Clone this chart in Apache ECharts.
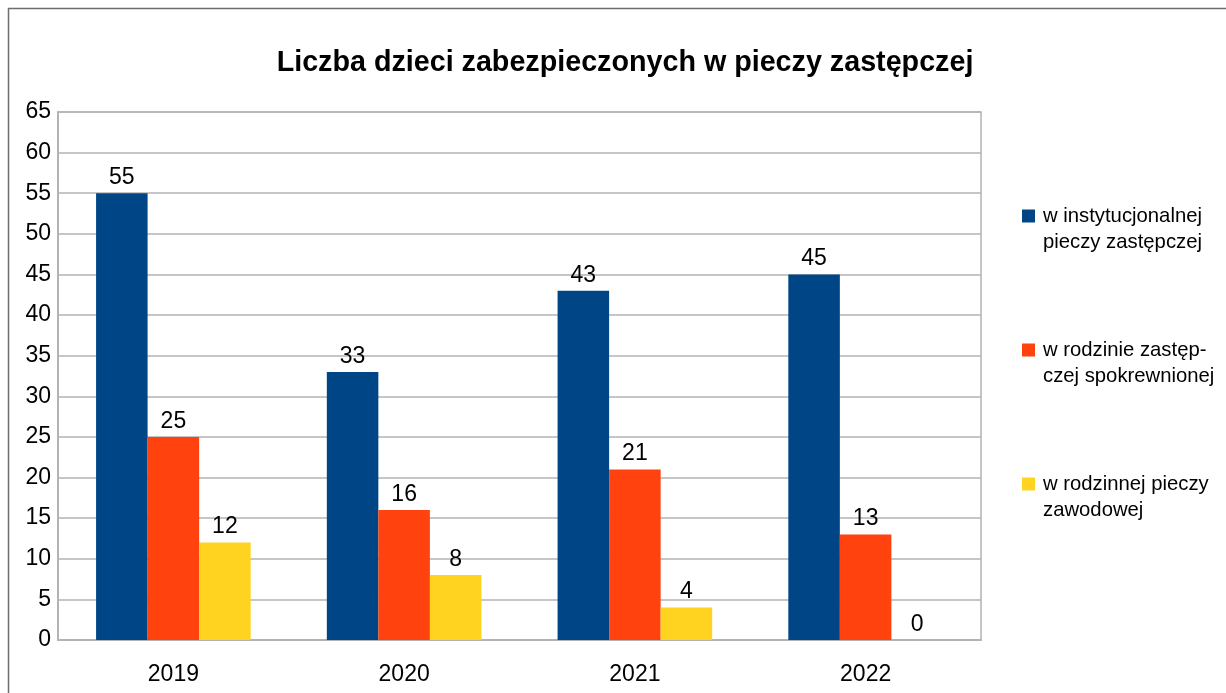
<!DOCTYPE html>
<html>
<head>
<meta charset="utf-8">
<script src="https://cdn.jsdelivr.net/npm/echarts@6/dist/echarts.min.js"></script>
<style>
  html, body { margin: 0; padding: 0; background: #fff; }
  #chart { width: 1226px; height: 693px; }
</style>
</head>
<body>
<div id="chart"></div>
<script>
// data
var years = ['2019', '2020', '2021', '2022']
var instytucjonalna = [55, 33, 43, 45]
var spokrewniona = [25, 16, 21, 13]
var zawodowa = [12, 8, 4, 0]
var seriesNames = [
  'w instytucjonalnej pieczy zastępczej',
  'w rodzinie zastępczej spokrewnionej',
  'w rodzinnej pieczy zawodowej'
]
// legend texts are wrapped like in the original
var legendLabels = {
  'w instytucjonalnej pieczy zastępczej': 'w instytucjonalnej\npieczy zastępczej',
  'w rodzinie zastępczej spokrewnionej': 'w rodzinie zastęp-\nczej spokrewnionej',
  'w rodzinnej pieczy zawodowej': 'w rodzinnej pieczy\nzawodowej'
}
var colors = ['#004586', '#ff420e', '#ffd320']
var font = '"Liberation Sans", Arial, sans-serif'

var chart = echarts.init(document.getElementById('chart'))

function makeSeries (name, values) {
  return {
    name: name,
    type: 'bar',
    data: values,
    barGap: '0%',
    barCategoryGap: '33%',
    label: {
      show: true,
      position: 'top',
      distance: 4,
      color: '#000',
      fontSize: 23,
      fontFamily: font
    }
  }
}

chart.setOption({
  backgroundColor: '#fff',
  animation: false,
  color: colors,
  title: {
    text: 'Liczba dzieci zabezpieczonych w pieczy zastępczej',
    left: 620,
    top: 44,
    textAlign: 'center',
    textStyle: {
      color: '#000',
      fontSize: 28.7,
      fontWeight: 'bold',
      fontFamily: font
    }
  },
  legend: {
    data: seriesNames,
    orient: 'vertical',
    left: 1022,
    top: 177,
    padding: 0,
    itemGap: 56,
    itemWidth: 13,
    itemHeight: 13,
    icon: 'rect',
    formatter: function (name) {
      // empty first line keeps the square next to the first text line
      return '\n' + legendLabels[name]
    },
    textStyle: {
      color: '#000',
      fontSize: 20.3,
      lineHeight: 26,
      fontFamily: font,
      padding: [0, 0, 0, 3]
    }
  },
  grid: {
    left: 58,
    right: 245,
    top: 112,
    bottom: 53,
    show: true,
    borderColor: '#b3b3b3',
    borderWidth: 1.5,
    containLabel: false
  },
  xAxis: {
    type: 'category',
    data: years,
    axisTick: { show: false },
    axisLine: {
      show: true,
      lineStyle: { color: '#b3b3b3', width: 2 }
    },
    axisLabel: {
      color: '#000',
      fontSize: 23,
      margin: 23,
      fontFamily: font
    },
    splitLine: { show: false }
  },
  yAxis: {
    type: 'value',
    min: 0,
    max: 65,
    interval: 5,
    axisTick: { show: false },
    axisLine: {
      show: true,
      lineStyle: { color: '#b3b3b3', width: 2 }
    },
    axisLabel: {
      color: '#000',
      fontSize: 23,
      margin: 7,
      fontFamily: font,
      padding: [4, 0, 0, 0]
    },
    splitLine: {
      show: true,
      lineStyle: { color: '#b3b3b3', width: 1.5 }
    }
  },
  graphic: [
    {
      type: 'rect',
      silent: true,
      z: 100,
      shape: { x: 8.5, y: 8.5, width: 1300, height: 800 },
      style: { fill: 'none', stroke: '#6e6e6e', lineWidth: 1.5 }
    }
  ],
  series: [
    makeSeries(seriesNames[0], instytucjonalna),
    makeSeries(seriesNames[1], spokrewniona),
    makeSeries(seriesNames[2], zawodowa)
  ]
})
</script>
</body>
</html>
